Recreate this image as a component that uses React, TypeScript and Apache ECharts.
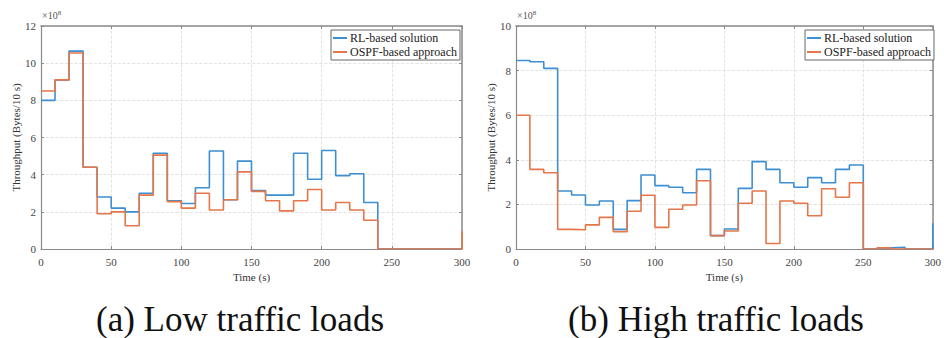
import React, { useEffect, useRef } from 'react';
import * as echarts from 'echarts';

const timeS = [0, 10, 20, 30, 40, 50, 60, 70, 80, 90, 100, 110, 120, 130, 140, 150, 160, 170, 180, 190, 200, 210, 220, 230, 240, 250, 260, 270, 280, 290, 300];

// (a) Low traffic loads, x10^8 Bytes/10 s
const lowRL = [8.0, 9.1, 10.65, 4.4, 2.8, 2.2, 2.0, 3.0, 5.15, 2.6, 2.45, 3.3, 5.27, 2.65, 4.73, 3.15, 2.9, 2.9, 5.15, 3.75, 5.3, 3.95, 4.05, 2.5, 0, 0, 0, 0, 0, 0, 0];
const lowOSPF = [8.5, 9.1, 10.55, 4.4, 1.9, 2.0, 1.25, 2.9, 5.05, 2.55, 2.2, 3.0, 2.1, 2.65, 4.15, 3.1, 2.6, 2.05, 2.6, 3.2, 2.1, 2.5, 2.1, 1.55, 0, 0, 0, 0, 0, 0, 0.95];

// (b) High traffic loads
const highRL = [8.45, 8.4, 8.1, 2.6, 2.42, 1.97, 2.15, 0.88, 2.17, 3.32, 2.84, 2.77, 2.52, 3.57, 0.6, 0.9, 2.72, 3.92, 3.57, 2.97, 2.77, 3.2, 2.97, 3.57, 3.77, 0, 0.05, 0.08, 0, 0, 1.15];
const highOSPF = [6.0, 3.57, 3.42, 0.88, 0.86, 1.08, 1.42, 0.78, 1.69, 2.41, 0.97, 1.78, 1.97, 3.06, 0.6, 0.81, 2.05, 2.6, 0.25, 2.15, 2.05, 1.49, 2.7, 2.32, 2.97, 0, 0.05, 0, 0, 0, 0];

const xTicks = [0, 50, 100, 150, 200, 250, 300];
const lowYMax = 12;
const highYMax = 10;

const seriesNames = ['RL-based solution', 'OSPF-based approach'];
const captions = ['(a) Low traffic loads', '(b) High traffic loads'];

const BLUE = '#3d8fd1';
const ORANGE = '#e5764a';
const SERIF = "'Liberation Serif', serif";
const AXIS = '#8a8a8a';

export default function App() {
  const ref = useRef<HTMLDivElement>(null);
  useEffect(() => {
    if (!ref.current) return;
    const chart = echarts.init(ref.current, null, { renderer: 'svg' });
    const grids = [
      { left: 41, top: 26, width: 421, height: 223 },
      { left: 516, top: 26, width: 421, height: 223 },
    ];
    const yMaxes = [lowYMax, highYMax];
    const pair = (arr: number[]) => timeS.map((t, i) => [t, arr[i]]);

    const mainX = grids.map((_, g) => ({
      type: 'value',
      gridIndex: g,
      min: xTicks[0],
      max: xTicks[xTicks.length - 1],
      interval: 50,
      name: 'Time (s)',
      nameLocation: 'middle',
      nameGap: 22,
      nameTextStyle: { fontFamily: SERIF, fontSize: 11, color: '#333' },
      axisLine: { lineStyle: { color: AXIS, width: 1.2 } },
      axisTick: { inside: true, length: 3, lineStyle: { color: AXIS } },
      axisLabel: { fontFamily: SERIF, fontSize: 11, color: '#444', margin: 7 },
      splitLine: { show: true, lineStyle: { color: '#dcdcdc', type: 'dashed', width: 0.8 } },
    }));
    const boxX = grids.map((_, g) => ({
      type: 'value',
      gridIndex: g,
      position: 'top',
      min: xTicks[0],
      max: xTicks[xTicks.length - 1],
      interval: 50,
      axisLine: { onZero: false, lineStyle: { color: AXIS, width: 1.5 } },
      axisTick: { inside: true, length: 3, lineStyle: { color: AXIS } },
      axisLabel: { show: false },
      splitLine: { show: false },
    }));
    const mainY = grids.map((_, g) => ({
      type: 'value',
      gridIndex: g,
      min: 0,
      max: yMaxes[g],
      interval: 2,
      name: 'Throughput (Bytes/10 s)',
      nameLocation: 'middle',
      nameGap: 19,
      nameTextStyle: { fontFamily: SERIF, fontSize: 11, color: '#333' },
      axisLine: { show: true, lineStyle: { color: AXIS, width: 1.2 } },
      axisTick: { show: true, inside: true, length: 3, lineStyle: { color: AXIS } },
      axisLabel: { fontFamily: SERIF, fontSize: 11, color: '#444', margin: 5 },
      splitLine: { show: true, lineStyle: { color: '#dcdcdc', type: 'dashed', width: 0.8 } },
    }));
    const boxY = grids.map((_, g) => ({
      type: 'value',
      gridIndex: g,
      position: 'right',
      min: 0,
      max: yMaxes[g],
      interval: 2,
      axisLine: { show: true, onZero: false, lineStyle: { color: AXIS, width: 1.5 } },
      axisTick: { show: true, inside: true, length: 3, lineStyle: { color: AXIS } },
      axisLabel: { show: false },
      splitLine: { show: false },
    }));

    const mkSeries = (name: string, data: number[], g: number, color: string) => ({
      type: 'line',
      name,
      step: 'end',
      xAxisIndex: g,
      yAxisIndex: g,
      data: pair(data),
      showSymbol: false,
      symbol: 'none',
      lineStyle: { color, width: 1.6 },
      itemStyle: { color },
    });

    const legendBase = {
      orient: 'vertical',
      top: 30,
      icon: 'rect',
      itemWidth: 14,
      itemHeight: 2,
      itemGap: 2,
      padding: [2, 3, 2, 2],
      borderColor: '#666',
      borderWidth: 1,
      backgroundColor: '#fff',
      data: seriesNames,
      textStyle: { fontFamily: SERIF, fontSize: 12, color: '#222', padding: [0, 0, 0, -2] },
    };

    const expLabel = (x: number) => ({
      type: 'text',
      left: x,
      top: 9,
      style: {
        text: '{a|×10}{b|8}',
        rich: {
          a: { fontFamily: SERIF, fontSize: 10, fill: '#555', color: '#555' },
          b: { fontFamily: SERIF, fontSize: 7, fill: '#555', color: '#555', padding: [0, 0, 6, 0] },
        },
      },
    });

    const caption = (cx: number, text: string) => ({
      type: 'text',
      x: cx,
      y: 319,
      style: {
        text,
        fontFamily: SERIF,
        fontSize: 35,
        fill: '#111',
        textAlign: 'center',
        textVerticalAlign: 'middle',
      },
    });

    chart.setOption({
      animation: false,
      backgroundColor: '#fff',
      grid: grids,
      xAxis: [...mainX, ...boxX],
      yAxis: [...mainY, ...boxY],
      legend: [
        { ...legendBase, right: 484 },
        { ...legendBase, right: 10 },
      ],
      series: [
        mkSeries(seriesNames[0], lowRL, 0, BLUE),
        mkSeries(seriesNames[1], lowOSPF, 0, ORANGE),
        mkSeries(seriesNames[0], highRL, 1, BLUE),
        mkSeries(seriesNames[1], highOSPF, 1, ORANGE),
      ],
      graphic: [
        expLabel(42),
        expLabel(517),
        caption(240, captions[0]),
        caption(716, captions[1]),
      ],
    });
    return () => chart.dispose();
  }, []);
  return (
    <div
      ref={ref}
      style={{ position: 'fixed', left: 0, top: 0, width: 944, height: 338, background: '#fff' }}
    />
  );
}
